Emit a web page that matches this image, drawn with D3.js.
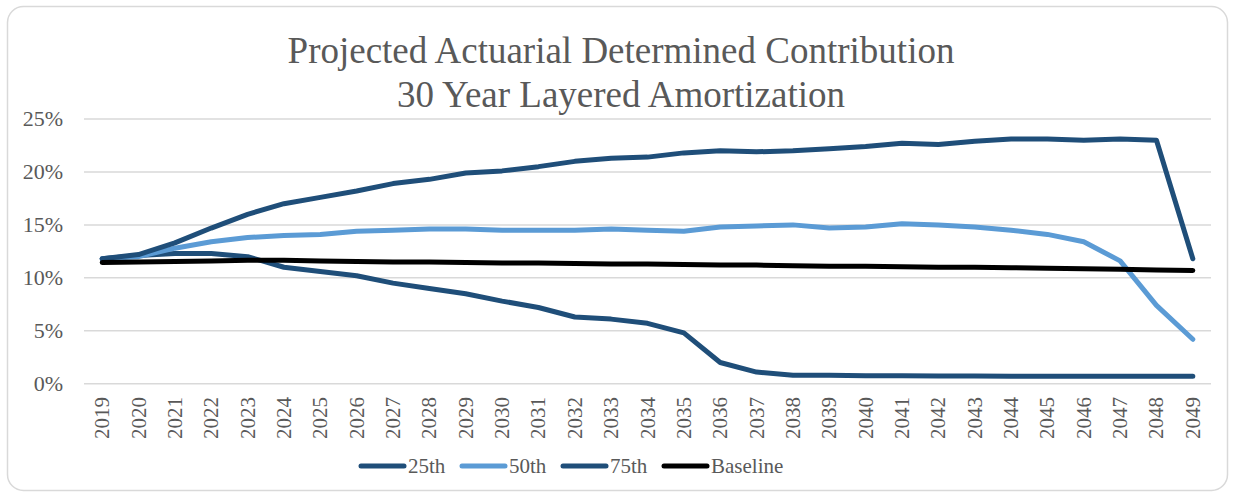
<!DOCTYPE html>
<html>
<head>
<meta charset="utf-8">
<script src="https://cdn.jsdelivr.net/npm/d3@7"></script>
<style>
  body { margin: 0; background: #fff; }
  text { font-family: "Liberation Serif", "Times New Roman", serif; fill: #595959; }
</style>
</head>
<body>
<svg width="1234" height="495"></svg>
<script>
// dati
var anni = d3.range(2019, 2050).map(String);
var p25 = [11.8,12.1,12.3,12.3,12.0,11.0,10.6,10.2,9.5,9.0,8.5,7.8,7.2,6.3,6.1,5.7,4.8,2.0,1.1,0.8,0.8,0.75,0.75,0.72,0.72,0.7,0.7,0.7,0.7,0.7,0.7];
var p50 = [11.8,12.0,12.8,13.4,13.8,14.0,14.1,14.4,14.5,14.6,14.6,14.5,14.5,14.5,14.6,14.5,14.4,14.8,14.9,15.0,14.7,14.8,15.1,15.0,14.8,14.5,14.1,13.4,11.6,7.4,4.2];
var p75 = [11.8,12.2,13.3,14.7,16.0,17.0,17.6,18.2,18.9,19.3,19.9,20.1,20.5,21.0,21.3,21.4,21.8,22.0,21.9,22.0,22.2,22.4,22.7,22.6,22.9,23.1,23.1,23.0,23.1,23.0,11.8];
var base = [11.45,11.5,11.55,11.6,11.65,11.65,11.6,11.55,11.5,11.5,11.45,11.4,11.4,11.35,11.3,11.3,11.25,11.2,11.2,11.15,11.1,11.1,11.05,11.0,11.0,10.95,10.9,10.85,10.8,10.75,10.7];
var yTicks = [0,5,10,15,20,25];

var serie = [
  {nome:"25th", valori:p25, colore:"#1F4E79"},
  {nome:"50th", valori:p50, colore:"#5B9BD5"},
  {nome:"75th", valori:p75, colore:"#1F4E79"},
  {nome:"Baseline", valori:base, colore:"#000000"}
];

var svg = d3.select("svg");

// bordo del grafico
svg.append("rect")
  .attr("x",7.5).attr("y",6.5).attr("width",1220).attr("height",484)
  .attr("rx",16).attr("fill","#fff").attr("stroke","#d9d9d9").attr("stroke-width",1.5);

// titolo
svg.append("text").attr("x",621).attr("y",63).attr("text-anchor","middle")
  .attr("font-size",37).text("Projected Actuarial Determined Contribution");
svg.append("text").attr("x",621).attr("y",107).attr("text-anchor","middle")
  .attr("font-size",37).text("30 Year Layered Amortization");

var x = d3.scaleBand().domain(anni).range([84,1211]);
var y = d3.scaleLinear().domain([0,25]).range([383.7,119]);

// griglia
svg.selectAll(".grid").data(yTicks).enter().append("line")
  .attr("class","grid")
  .attr("x1",84).attr("x2",1211)
  .attr("y1",function(d){return y(d)}).attr("y2",function(d){return y(d)})
  .attr("stroke","#d9d9d9").attr("stroke-width",1.5);

// etichette asse y
svg.selectAll(".ylab").data(yTicks).enter().append("text")
  .attr("class","ylab")
  .attr("x",63).attr("y",function(d){return y(d)+7})
  .attr("text-anchor","end").attr("font-size",22)
  .text(function(d){return d+"%"});

// etichette asse x
svg.selectAll(".xlab").data(anni).enter().append("text")
  .attr("class","xlab")
  .attr("transform",function(d){return "translate("+(x(d)+x.bandwidth()/2+7)+",397) rotate(-90)"})
  .attr("text-anchor","end").attr("font-size",21)
  .text(function(d){return d});

var linea = d3.line()
  .x(function(d,i){return x(anni[i])+x.bandwidth()/2})
  .y(function(d){return y(d)});

svg.selectAll(".serie").data(serie).enter().append("path")
  .attr("class","serie")
  .attr("d",function(d){return linea(d.valori)})
  .attr("fill","none")
  .attr("stroke",function(d){return d.colore})
  .attr("stroke-width",5)
  .attr("stroke-linejoin","round")
  .attr("stroke-linecap","round");

// legenda
var legX = [361,462,563,664];
var leg = svg.selectAll(".leg").data(serie).enter().append("g")
  .attr("class","leg")
  .attr("transform",function(d,i){return "translate("+legX[i]+",466)"});
leg.append("line").attr("x1",0).attr("x2",43).attr("y1",0).attr("y2",0)
  .attr("stroke",function(d){return d.colore}).attr("stroke-width",5).attr("stroke-linecap","round");
leg.append("text").attr("x",47).attr("y",7).attr("font-size",21)
  .text(function(d){return d.nome});
</script>
</body>
</html>
